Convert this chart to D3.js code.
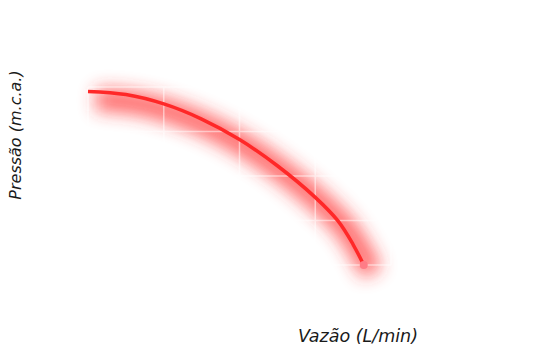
<!DOCTYPE html>
<html>
<head>
<meta charset="utf-8">
<script src="https://cdn.jsdelivr.net/npm/d3@7"></script>
<style>
  body { margin: 0; background: #fff; }
  .axis-label { font-family: 'DejaVu Sans', sans-serif; font-style: italic; fill: #1a1a1a; }
</style>
</head>
<body>
<div class="chart"></div>
<script>
// vazão (L/min) x pressão (m.c.a.)
var vazao = [0, 5, 10, 15, 20, 25, 30, 33, 35, 36.4]
var pressao = [39, 38.3, 36.2, 32.8, 28.2, 22.3, 15.2, 9.9, 4.6, 0]
var gridX = [0, 10, 20, 30, 40]
var gridY = [0, 10, 20, 30, 40]

var width = 558
var height = 350

var x = d3.scaleLinear().domain([0, 40]).range([88, 391])
var y = d3.scaleLinear().domain([0, 40]).range([265, 87])

var points = vazao.map((v, i) => ({ q: v, h: pressao[i] }))

var svg = d3.select('.chart')
  .append('svg')
    .attr('width', width)
    .attr('height', height)

var defs = svg.append('defs')
defs.append('filter')
    .attr('id', 'glow')
    .attr('x', '-30%').attr('y', '-30%')
    .attr('width', '160%').attr('height', '160%')
  .append('feGaussianBlur')
    .attr('stdDeviation', 9)

var line = d3.line()
  .x(d => x(d.q))
  .y(d => y(d.h))
  .curve(d3.curveCatmullRom)

// glow behind the curve
svg.append('path')
  .datum(points)
  .attr('d', line)
  .attr('transform', 'translate(8,8)')
  .style('fill', 'none')
  .style('stroke', '#ff2a2a')
  .style('stroke-width', 22)
  .style('stroke-linecap', 'butt')
  .style('opacity', 0.72)
  .attr('filter', 'url(#glow)')

// white grid, only shows over the glow
var grid = svg.append('g')
  .style('stroke', '#fff')
  .style('stroke-width', 1.5)
  .style('opacity', 0.5)

grid.selectAll('.gx')
  .data(gridX)
  .enter()
    .append('line')
    .attr('x1', d => x(d)).attr('x2', d => x(d))
    .attr('y1', y(40)).attr('y2', y(0))

grid.selectAll('.gy')
  .data(gridY)
  .enter()
    .append('line')
    .attr('y1', d => y(d)).attr('y2', d => y(d))
    .attr('x1', x(0)).attr('x2', x(40))

svg.append('path')
  .datum(points)
  .attr('d', line)
  .style('fill', 'none')
  .style('stroke', '#ff2828')
  .style('stroke-width', 3.5)

var last = points[points.length - 1]
svg.append('circle')
  .attr('cx', x(last.q))
  .attr('cy', y(last.h))
  .attr('r', 4)
  .style('fill', '#ff7c86')

svg.append('text')
  .attr('class', 'axis-label')
  .attr('transform', 'translate(21,135) rotate(-90)')
  .attr('text-anchor', 'middle')
  .style('font-size', '16px')
  .text('Pressão (m.c.a.)')

svg.append('text')
  .attr('class', 'axis-label')
  .attr('x', 358)
  .attr('y', 342)
  .attr('text-anchor', 'middle')
  .style('font-size', '17.5px')
  .text('Vazão (L/min)')
</script>
</body>
</html>
